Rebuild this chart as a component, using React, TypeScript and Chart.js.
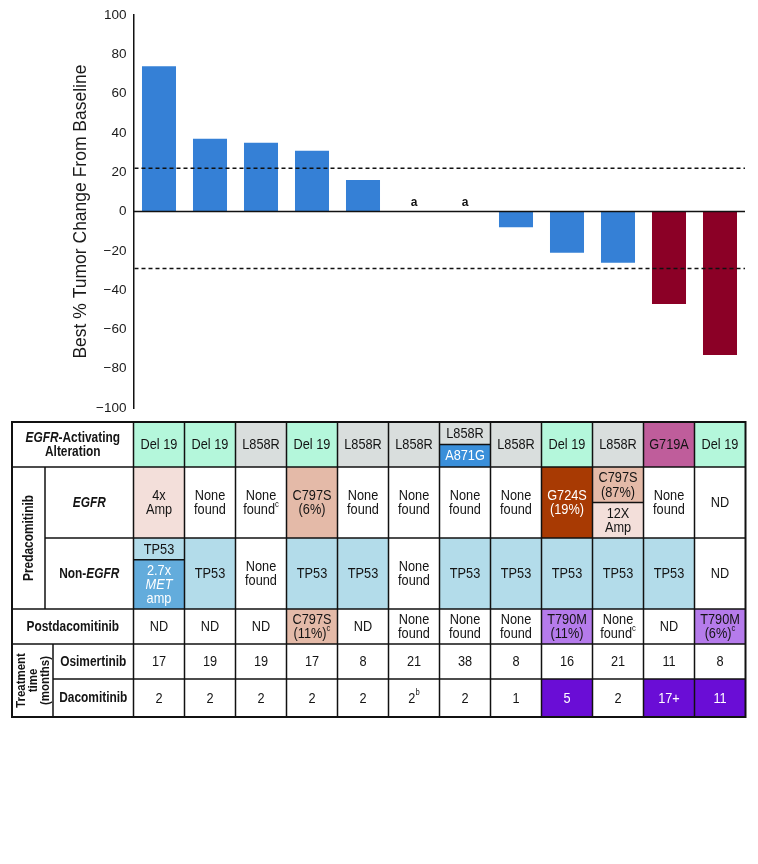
import React, { useEffect, useRef } from 'react';
import { Chart, registerables } from 'chart.js';

Chart.register(...registerables);

const FONT = '"Liberation Sans", Arial, Helvetica, sans-serif';

// ---------- chart data ----------
const patients = ['P1', 'P2', 'P3', 'P4', 'P5', 'P6', 'P7', 'P8', 'P9', 'P10', 'P11', 'P12'];
const tumorChange: (number | null)[] = [74, 37, 35, 31, 16, null, null, -8, -21, -26, -47, -73];
const responder = [0, 0, 0, 0, 0, 0, 0, 0, 0, 0, 1, 1];
const notEvaluableMark = ['', '', '', '', '', 'a', 'a', '', '', '', '', ''];
const thresholds = [22, -29];
const yTitle = 'Best % Tumor Change From Baseline';
const yMin = -100;
const yMax = 100;
const yStep = 20;

// ---------- table data ----------
// "|" splits a cell into stacked sub-cells, "\n" breaks lines, "_x_" italic, "^x" superscript
const activating = ['Del 19', 'Del 19', 'L858R', 'Del 19', 'L858R', 'L858R', 'L858R|A871G', 'L858R', 'Del 19', 'L858R', 'G719A', 'Del 19'];
const preEgfr = ['4x\nAmp', 'None\nfound', 'None\nfound^c', 'C797S\n(6%)', 'None\nfound', 'None\nfound', 'None\nfound', 'None\nfound', 'G724S\n(19%)', 'C797S\n(87%)|12X\nAmp', 'None\nfound', 'ND'];
const preNonEgfr = ['TP53|2.7x\n_MET_\namp', 'TP53', 'None\nfound', 'TP53', 'TP53', 'None\nfound', 'TP53', 'TP53', 'TP53', 'TP53', 'TP53', 'ND'];
const postDacomitinib = ['ND', 'ND', 'ND', 'C797S\n(11%)^c', 'ND', 'None\nfound', 'None\nfound', 'None\nfound', 'T790M\n(11%)', 'None\nfound^c', 'ND', 'T790M\n(6%)^c'];
const osimertinibMonths = ['17', '19', '19', '17', '8', '21', '38', '8', '16', '21', '11', '8'];
const dacomitinibMonths = ['2', '2', '2', '2', '2', '2^b', '2', '1', '5', '2', '17+', '11'];
const dacomitinibHighlight = [0, 0, 0, 0, 0, 0, 0, 0, 1, 0, 1, 1];

const tableRows = [activating, preEgfr, preNonEgfr, postDacomitinib, osimertinibMonths, dacomitinibMonths];

const cellFill: Record<string, string> = {
  'Del 19': '#b4f7db',
  L858R: '#d9dedd',
  A871G: '#3a8fda',
  G719A: '#bf5d9b',
  '4x': '#f3dfda',
  '12X': '#f3dfda',
  C797S: '#e4baa8',
  G724S: '#a83a03',
  TP53: '#b3dcea',
  '2.7x': '#63acdc',
  T790M: '#b57beb',
};
const whiteTextKeys = ['A871G', 'G724S', '2.7x'];
const highlightFill = '#6a0dd6';

const BLUE = '#3580d6';
const RED = '#8b0026';

// ---------- drawing helpers ----------
function drawRich(ctx: CanvasRenderingContext2D, line: string, cx: number, cy: number, size: number, bold: boolean, color: string, rot = 0, sx = 0.85) {
  const segs: { t: string; it: boolean; sup: boolean }[] = [];
  let it = false;
  let sup = false;
  let buf = '';
  for (const ch of line) {
    if (ch === '_') {
      if (buf) segs.push({ t: buf, it, sup });
      buf = '';
      it = !it;
    } else if (ch === '^') {
      if (buf) segs.push({ t: buf, it, sup });
      buf = '';
      sup = true;
    } else buf += ch;
  }
  if (buf) segs.push({ t: buf, it, sup });
  const fontFor = (s: { it: boolean; sup: boolean }) =>
    `${s.it ? 'italic ' : ''}${bold ? 'bold ' : ''}${s.sup ? Math.round(size * 0.6) : size}px ${FONT}`;
  let W = 0;
  const ws = segs.map((s) => {
    ctx.font = fontFor(s);
    const w = ctx.measureText(s.t).width;
    W += w;
    return w;
  });
  ctx.save();
  ctx.translate(cx, cy);
  if (rot) ctx.rotate(rot);
  ctx.scale(sx, 1);
  ctx.fillStyle = color;
  ctx.textBaseline = 'middle';
  ctx.textAlign = 'left';
  let x = -W / 2;
  segs.forEach((s, i) => {
    ctx.font = fontFor(s);
    ctx.fillText(s.t, x, s.sup ? -size * 0.38 : 0);
    x += ws[i];
  });
  ctx.restore();
}

function drawBlock(ctx: CanvasRenderingContext2D, text: string, cx: number, cy: number, size: number, bold: boolean, color: string, lh: number, rot = 0) {
  const lines = text.split('\n');
  lines.forEach((ln, i) => {
    const off = (i - (lines.length - 1) / 2) * lh;
    if (rot) drawRich(ctx, ln, cx + off, cy, size, bold, color, rot);
    else drawRich(ctx, ln, cx, cy + off, size, bold, color);
  });
}

const overlayPlugin = {
  id: 'overlay',
  afterDatasetsDraw(chart: any) {
    const ctx: CanvasRenderingContext2D = chart.ctx;
    const xs = chart.scales.x;
    const ys = chart.scales.y;
    const area = chart.chartArea;
    const right = area.right - 0.5;
    ctx.save();
    // zero line
    const y0 = ys.getPixelForValue(0);
    ctx.strokeStyle = '#111';
    ctx.lineWidth = 1.5;
    ctx.beginPath();
    ctx.moveTo(area.left, y0);
    ctx.lineTo(right, y0);
    ctx.stroke();
    // threshold dashed lines
    ctx.setLineDash([4, 3]);
    ctx.lineWidth = 1.5;
    thresholds.forEach((t) => {
      const yy = ys.getPixelForValue(t);
      ctx.beginPath();
      ctx.moveTo(area.left + 1, yy);
      ctx.lineTo(right, yy);
      ctx.stroke();
    });
    ctx.setLineDash([]);
    // "a" marks
    ctx.fillStyle = '#111';
    ctx.font = `bold 12px ${FONT}`;
    ctx.textAlign = 'center';
    ctx.textBaseline = 'middle';
    notEvaluableMark.forEach((m, i) => {
      if (m) ctx.fillText(m, xs.getPixelForValue(i), y0 - 9);
    });
    ctx.restore();
  },
  afterDraw(chart: any) {
    const ctx: CanvasRenderingContext2D = chart.ctx;
    const xs = chart.scales.x;
    const area = chart.chartArea;
    const n = patients.length;
    const cw = (area.right - area.left) / n;
    const colL = (i: number) => xs.getPixelForValue(i) - cw / 2;
    const tableLeft = 12;
    const tableRight = area.right;
    const rowY = [422, 467, 538, 609, 644, 679, 717];
    const preSplit = 45;
    const treatSplit = 53;
    const dark = '#111';
    const splits: number[][] = [];

    ctx.save();
    // cells
    tableRows.forEach((row, r) => {
      const top = rowY[r];
      const bot = rowY[r + 1];
      row.forEach((text, i) => {
        const l = colL(i);
        const parts = text.split('|');
        const weights = parts.map((p) => p.split('\n').length + 0.6);
        const tw = weights.reduce((a, b) => a + b, 0);
        let y = top;
        parts.forEach((p, k) => {
          const h = ((bot - top) * weights[k]) / tw;
          const key = p.split('\n')[0].replace(/_/g, '').replace(/\^.*/, '');
          let fill = '#ffffff';
          let tc = '#141414';
          if (r === 5) {
            if (dacomitinibHighlight[i]) {
              fill = highlightFill;
              tc = '#ffffff';
            }
          } else {
            fill = cellFill[key] ?? '#ffffff';
            if (whiteTextKeys.includes(key)) tc = '#ffffff';
          }
          ctx.fillStyle = fill;
          ctx.fillRect(l, y, cw, h);
          drawBlock(ctx, p, l + cw / 2, y + h / 2 + 0.5, 15, false, tc, 14.4);
          if (k > 0) splits.push([l, l + cw, y]);
          y += h;
        });
      });
    });

    // row labels
    const lc = '#141414';
    drawBlock(ctx, '_EGFR_-Activating\nAlteration', (tableLeft + colL(0)) / 2, (rowY[0] + rowY[1]) / 2 + 0.5, 14, true, lc, 13.5);
    drawBlock(ctx, 'Predacomitinib', (tableLeft + preSplit) / 2 + 0.5, (rowY[1] + rowY[3]) / 2, 14, true, lc, 13, -Math.PI / 2);
    drawBlock(ctx, '_EGFR_', (preSplit + colL(0)) / 2, (rowY[1] + rowY[2]) / 2 + 0.5, 14, true, lc, 13);
    drawBlock(ctx, 'Non-_EGFR_', (preSplit + colL(0)) / 2, (rowY[2] + rowY[3]) / 2 + 0.5, 14, true, lc, 13);
    drawBlock(ctx, 'Postdacomitinib', (tableLeft + colL(0)) / 2, (rowY[3] + rowY[4]) / 2 + 0.5, 14, true, lc, 13);
    drawBlock(ctx, 'Treatment\ntime\n(months)', (tableLeft + treatSplit) / 2 + 0.5, (rowY[4] + rowY[6]) / 2, 13.5, true, lc, 12, -Math.PI / 2);
    drawBlock(ctx, 'Osimertinib', (treatSplit + colL(0)) / 2, (rowY[4] + rowY[5]) / 2 + 0.5, 14, true, lc, 13);
    drawBlock(ctx, 'Dacomitinib', (treatSplit + colL(0)) / 2, (rowY[5] + rowY[6]) / 2 + 0.5, 14, true, lc, 13);

    // grid lines
    ctx.strokeStyle = dark;
    ctx.lineWidth = 1.5;
    const hline = (x1: number, x2: number, y: number) => {
      ctx.beginPath();
      ctx.moveTo(x1, y);
      ctx.lineTo(x2, y);
      ctx.stroke();
    };
    const vline = (x: number, y1: number, y2: number) => {
      ctx.beginPath();
      ctx.moveTo(x, y1);
      ctx.lineTo(x, y2);
      ctx.stroke();
    };
    hline(tableLeft, tableRight, rowY[1]);
    hline(preSplit, tableRight, rowY[2]);
    hline(tableLeft, tableRight, rowY[3]);
    hline(tableLeft, tableRight, rowY[4]);
    hline(treatSplit, tableRight, rowY[5]);
    for (let i = 0; i < n; i++) vline(colL(i), rowY[0], rowY[6]);
    vline(preSplit, rowY[1], rowY[3]);
    vline(treatSplit, rowY[4], rowY[6]);
    splits.forEach(([a, b, y]) => hline(a, b, y));
    // outer border
    ctx.lineWidth = 2;
    ctx.strokeRect(tableLeft, rowY[0], tableRight - tableLeft, rowY[6] - rowY[0]);
    ctx.restore();
  },
};

export default function App() {
  const ref = useRef<HTMLCanvasElement>(null);
  useEffect(() => {
    if (!ref.current) return;
    const chart = new Chart(ref.current, {
      type: 'bar',
      data: {
        labels: patients,
        datasets: [
          {
            data: tumorChange as any,
            backgroundColor: responder.map((r) => (r ? RED : BLUE)),
            borderWidth: 0,
            barPercentage: 0.667,
            categoryPercentage: 1,
          },
        ],
      },
      options: {
        responsive: false,
        animation: false,
        devicePixelRatio: 1,
        layout: { padding: { left: 0, right: 12.5, top: 8, bottom: 456 } },
        plugins: { legend: { display: false }, tooltip: { enabled: false } },
        scales: {
          x: { display: false, offset: true },
          y: {
            min: yMin,
            max: yMax,
            ticks: {
              stepSize: yStep,
              padding: 7,
              color: '#1a1a1a',
              font: { family: FONT, size: 13.5 },
              callback: (v: any) => (Number(v) < 0 ? '\u2212' + Math.abs(Number(v)) : String(v)),
            },
            grid: { display: false, drawTicks: false },
            border: { display: true, color: '#111', width: 1.5 },
            title: {
              display: true,
              text: yTitle,
              color: '#1a1a1a',
              font: { family: FONT, size: 17.5 },
              padding: { top: 70.5, bottom: 0 },
            },
            afterFit: (s: any) => {
              s.width = 133.5;
            },
          },
        },
      },
      plugins: [overlayPlugin],
    });
    return () => chart.destroy();
  }, []);
  return (
    <div style={{ position: 'absolute', left: 0, top: 0, width: 758, height: 864, background: '#fff' }}>
      <canvas ref={ref} width={758} height={864} style={{ display: 'block', width: 758, height: 864 }} />
    </div>
  );
}
